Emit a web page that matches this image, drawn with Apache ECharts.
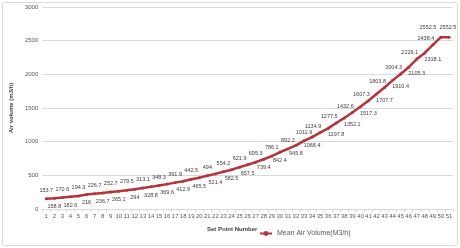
<!DOCTYPE html>
<html>
<head>
<meta charset="utf-8">
<script src="https://cdn.jsdelivr.net/npm/echarts@6/dist/echarts.min.js"></script>
<style>
  html, body { margin: 0; padding: 0; background: #fff; }
  #chart { width: 460px; height: 248px; }
</style>
</head>
<body>
<div id="chart"></div>
<script>
// Set point numbers 1..51 along the x axis
const setPoints = ['1','2','3','4','5','6','7','8','9','10','11','12','13','14','15','16','17','18','19','20',
  '21','22','23','24','25','26','27','28','29','30','31','32','33','34','35','36','37','38','39','40',
  '41','42','43','44','45','46','47','48','49','50','51'];

// Mean air volume at each set point (m3/h)
const meanAirVolume = [153.7, 158.8, 170.6, 182.6, 194.3, 216, 226.7, 236.7, 252.7, 265.1,
  279.5, 294, 313.1, 328.8, 348.3, 369.6, 391.9, 412.9, 442.5, 465.5,
  494, 521.4, 554.2, 582.5, 621.9, 657.5, 695.3, 739.4, 786.1, 842.4,
  892.2, 945.8, 1011.9, 1068.4, 1134.9, 1197.8, 1277.5, 1352.1, 1432.6, 1517.3,
  1607.3, 1707.7, 1803.8, 1910.4, 2004.3, 2105.3, 2226.1, 2318.1, 2438.4, 2552.5, 2552.5];

const yTicks = { min: 0, max: 3000, interval: 500 };

const seriesName = 'Mean Air Volume(M3/h)';
const xTitle = 'Set Point Number';
const yTitle = 'Air volume (m3/h)';

const FONT = '"Liberation Sans", Arial, sans-serif';
const LINE_COLOR = '#b5343b';

// Labels alternate above and below the line; on the steep part they shift sideways
const n = meanAirVolume.length;
const points = meanAirVolume.map((v, i) => {
  let above = i % 2 === 0;
  let offset = [0, 0];
  if (i >= 34) offset = above ? [-7, 2] : [8, -2];
  if (i === n - 2) { above = true; offset = [-13, -1]; }
  if (i === n - 1) { above = true; offset = [-1, -1]; }
  return {
    value: v,
    label: { position: above ? 'top' : 'bottom', offset: offset }
  };
});

const chart = echarts.init(document.getElementById('chart'), null, { renderer: 'canvas' });
chart.setOption({
  animation: false,
  backgroundColor: '#fff',
  grid: { left: 32, right: 7, top: 7, bottom: 39, containLabel: false },
  graphic: [
    {
      type: 'rect',
      shape: { x: 2.5, y: 2.5, width: 455, height: 243, r: 2 },
      style: { fill: 'none', stroke: '#d9d9d9', lineWidth: 1 },
      silent: true
    },
    {
      type: 'text',
      left: 207, top: 226,
      style: { text: xTitle, font: 'bold 6px ' + FONT, fill: '#404040' }
    }
  ],
  legend: {
    left: 254, top: 225,
    itemWidth: 12, itemHeight: 6, itemGap: 4,
    textStyle: { fontSize: 7, color: '#595959', fontFamily: FONT },
    data: [seriesName]
  },
  xAxis: {
    type: 'category',
    data: setPoints,
    boundaryGap: true,
    axisLine: { lineStyle: { color: '#d9d9d9' } },
    axisTick: { show: true, alignWithLabel: false, length: 3, lineStyle: { color: '#d9d9d9' } },
    axisLabel: { interval: 0, fontSize: 6, color: '#595959', fontFamily: FONT, margin: 4 }
  },
  yAxis: {
    type: 'value',
    min: yTicks.min, max: yTicks.max, interval: yTicks.interval,
    name: yTitle,
    nameLocation: 'middle',
    nameGap: 19,
    nameTextStyle: { fontSize: 6, color: '#404040', fontFamily: FONT, fontWeight: 'bold' },
    axisLine: { show: false },
    axisTick: { show: false },
    axisLabel: { fontSize: 6, color: '#595959', fontFamily: FONT, margin: 4, formatter: (v) => String(v) },
    splitLine: { lineStyle: { color: '#d9d9d9', width: 1 } }
  },
  series: [{
    name: seriesName,
    type: 'line',
    data: points,
    color: LINE_COLOR,
    lineStyle: { width: 2.5, color: LINE_COLOR },
    symbol: 'circle',
    symbolSize: 3,
    itemStyle: { color: LINE_COLOR },
    label: {
      show: true,
      fontSize: 5.5,
      color: '#404040',
      fontFamily: FONT,
      distance: 4
    },
    labelLine: { show: false }
  }]
});
</script>
</body>
</html>
